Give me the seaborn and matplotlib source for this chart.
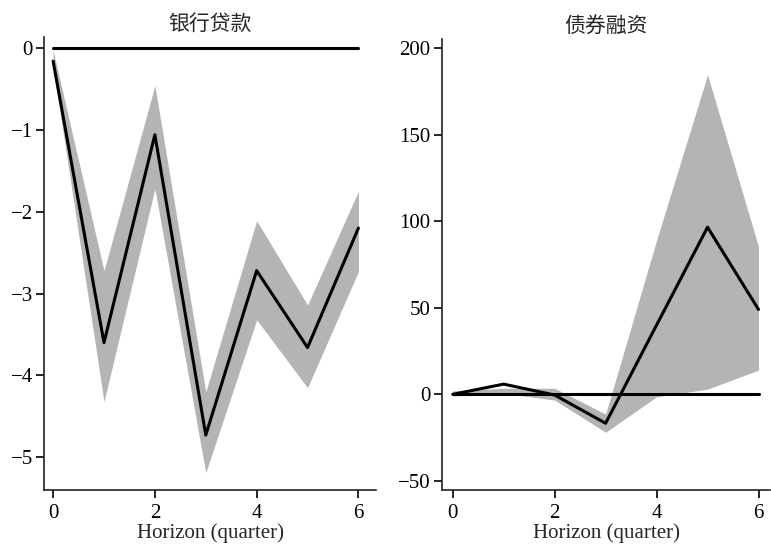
import numpy as np
import pandas as pd
import matplotlib
matplotlib.use("Agg")
import matplotlib.pyplot as plt
import seaborn as sns

# Impulse responses by horizon (quarters)
horizon = [0, 1, 2, 3, 4, 5, 6]

loan_irf = [-0.16, -3.60, -1.06, -4.73, -2.72, -3.66, -2.20]
loan_lower = [-0.22, -4.32, -1.72, -5.19, -3.32, -4.15, -2.73]
loan_upper = [-0.03, -2.72, -0.46, -4.20, -2.11, -3.14, -1.75]

bond_irf = [0.0, 5.9, -0.4, -16.7, 40.0, 96.5, 49.0]
bond_lower = [-1.0, 0.6, -3.3, -21.9, -1.4, 3.0, 14.0]
bond_upper = [2.0, 3.5, 3.5, -11.4, 89.0, 184.5, 85.2]

titles = ["银行贷款", "债券融资"]
xlabel = "Horizon (quarter)"
x_ticks = [0, 2, 4, 6]
loan_yticks = [0, -1, -2, -3, -4, -5]
bond_yticks = [200, 150, 100, 50, 0, -50]

sns.set_style("ticks")
plt.rcParams["font.family"] = ["Liberation Serif", "Noto Sans CJK SC"]
plt.rcParams["axes.unicode_minus"] = True
plt.rcParams["xtick.major.size"] = 6
plt.rcParams["ytick.major.size"] = 6
plt.rcParams["xtick.major.width"] = 1.2
plt.rcParams["ytick.major.width"] = 1.2

fig = plt.figure(figsize=(7.71, 5.45), dpi=100)
ax1 = fig.add_axes([0.057, 0.101, 0.431, 0.831])
ax2 = fig.add_axes([0.573, 0.101, 0.426, 0.827])

band_color = "#b4b4b4"

panels = [
    (loan_irf, loan_lower, loan_upper, loan_yticks, (-5.40, 0.134), (-0.18, 6.35)),
    (bond_irf, bond_lower, bond_upper, bond_yticks, (-55.2, 205), (-0.215, 6.23)),
]

for ax, (irf, lo, hi, yt, ylim, xlim), title in zip([ax1, ax2], panels, titles):
    df = pd.DataFrame({"h": horizon, "irf": irf})
    ax.fill_between(horizon, lo, hi, color=band_color, linewidth=0, zorder=1)
    ax.plot([horizon[0], horizon[-1]], [0, 0], color="black", linewidth=2.2, zorder=2)
    sns.lineplot(data=df, x="h", y="irf", ax=ax, color="black", linewidth=2.2, zorder=3)
    ax.set_xlim(*xlim)
    ax.set_ylim(*ylim)
    ax.set_xticks(x_ticks)
    ax.set_yticks(yt)
    ax.set_xlabel(xlabel, fontsize=15, labelpad=0.5)
    ax.set_ylabel("")
    ax.set_title(title, fontsize=15, pad=5)
    ax.tick_params(axis="x", labelsize=15, colors="black", pad=4)
    ax.tick_params(axis="y", labelsize=15, colors="black", pad=2)
    for side in ("top", "right"):
        ax.spines[side].set_visible(False)
    for side in ("left", "bottom"):
        ax.spines[side].set_color("#222222")
        ax.spines[side].set_linewidth(1.2)

fig.savefig("out.png", dpi=100, facecolor="white")
